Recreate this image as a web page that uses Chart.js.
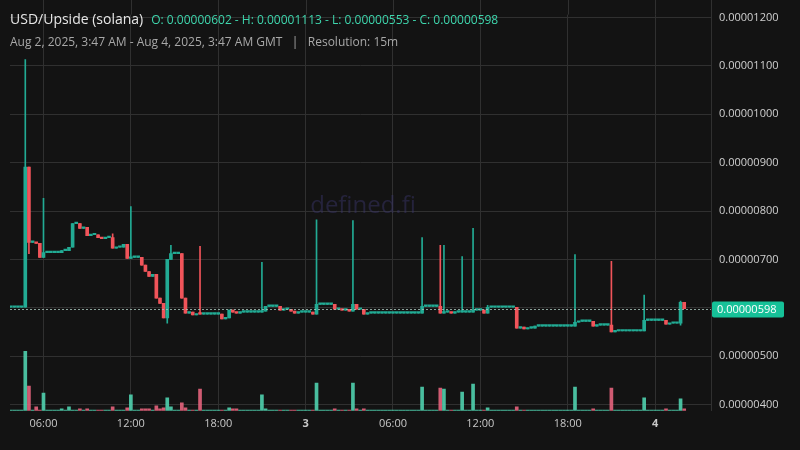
<!DOCTYPE html>
<html><head><meta charset="utf-8">
<script src="https://cdn.jsdelivr.net/npm/chart.js@4.4.0/dist/chart.umd.min.js"></script>
<style>html,body{margin:0;background:#131313;}#w{width:800px;height:450px;}</style>
</head><body><div id="w"><canvas id="c"></canvas></div>
<script>
// 15-minute candles, hours since Aug 2 00:00 GMT; prices in units of 1e-6
const startHour = 3.75, intervalHours = 0.25;
const closes = [6.01,6.01,6.01,6.01,
8.91,7.35,7.35,7.33,7.04,7.14,7.14,7.14,7.14,7.14,
7.18,7.18,7.25,7.74,7.74,7.64,7.66,7.49,7.51,7.51,7.45,7.43,7.45,7.45,7.23,7.25,7.25,7.31,7.02,7.04,7.04,7.04,
6.88,6.75,6.65,6.69,6.20,6.09,5.79,7.00,7.12,7.12,7.12,6.20,5.89,5.91,5.85,5.87,5.87,5.87,5.87,5.87,5.87,5.87,
5.77,5.79,5.95,5.91,5.89,5.91,5.91,5.91,5.91,5.91,5.91,5.93,6.03,6.03,6.03,6.03,5.95,5.97,5.97,5.93,5.89,
5.91,5.91,5.91,5.91,5.87,6.07,6.07,6.07,6.07,6.07,5.97,5.97,5.95,5.97,5.93,6.07,5.97,5.97,5.87,
5.89,5.89,5.89,5.89,5.89,5.89,5.89,5.89,5.89,5.89,5.89,5.89,5.89,5.89,5.89,
6.03,6.03,6.03,6.03,6.03,5.89,5.91,5.91,5.89,5.91,5.91,5.91,5.91,5.91,5.95,5.95,5.95,5.89,6.01,
6.01,6.01,6.01,6.01,6.01,6.01,6.01,5.58,5.60,5.56,5.58,5.58,5.62,
5.62,5.62,5.62,5.62,5.62,5.62,5.62,5.62,5.62,5.62,5.70,5.72,5.72,5.72,5.72,5.62,5.64,5.64,5.64,5.64,5.50,
5.52,5.52,5.52,5.52,5.52,5.52,5.52,5.52,5.74,5.74,5.74,5.74,5.74,5.74,5.66,5.68,5.68,5.68,6.11,5.98];
const opens = [6.01,6.01,6.01,6.01,
6.01,8.91,7.35,7.35,7.33,7.04,7.14,7.14,7.14,7.14,
7.14,7.18,7.18,7.25,7.74,7.74,7.64,7.66,7.49,7.51,7.51,7.45,7.43,7.45,7.45,7.23,7.25,7.25,7.31,7.02,7.04,7.04,
7.04,6.88,6.75,6.65,6.69,6.20,6.09,5.79,7.00,7.12,7.12,7.12,6.20,5.89,5.91,5.85,5.88,5.87,5.87,5.87,5.87,5.87,
5.87,5.77,5.79,5.95,5.91,5.89,5.91,5.91,5.91,5.91,5.91,5.91,5.93,6.03,6.03,6.03,6.03,5.95,5.97,5.97,5.93,
5.89,5.91,5.91,5.91,5.91,5.87,6.07,6.07,6.07,6.07,6.07,5.97,5.97,5.95,5.97,5.93,6.07,5.97,5.97,
5.87,5.89,5.89,5.89,5.89,5.89,5.89,5.89,5.89,5.89,5.89,5.89,5.89,5.89,5.89,
5.89,6.03,6.03,6.03,6.03,6.03,5.89,5.91,5.91,5.89,5.91,5.91,5.91,5.91,5.91,5.95,5.95,5.95,5.89,
6.01,6.01,6.01,6.01,6.01,6.01,6.01,6.01,5.58,5.60,5.56,5.58,5.58,
5.62,5.62,5.62,5.62,5.62,5.62,5.62,5.62,5.62,5.62,5.62,5.70,5.72,5.72,5.72,5.72,5.62,5.64,5.64,5.64,5.64,
5.50,5.52,5.52,5.52,5.52,5.52,5.52,5.52,5.52,5.74,5.74,5.74,5.74,5.74,5.74,5.66,5.68,5.68,5.68,6.11];
const highIdx = [4,9,28,33,44,52,69,84,94,113,118,119,124,127,131,155,165,174,184];
const highVal = [11.13,8.26,7.53,8.09,7.29,7.27,6.94,7.82,7.80,7.45,7.29,7.29,7.06,7.64,6.05,7.10,6.96,6.26,6.14];
const lowIdx = [5,43,184];
const lowVal = [7.12,5.68,5.64];
const volIdx = [4,5,7,9,14,16,19,21,28,32,33,36,37,38,40,41,42,43,44,47,48,52,60,61,62,69,70,84,89,94,95,97,113,118,119,124,127,131,139,155,160,165,174,180,184,185];
const volVal = [60,25,4,18,2,4,2,2,4,3,16,2,2,2,5,2,3,13,4,8,3,22,3,2,2,16,2,28,2,28,2,2,24,23,22,19,27,3,4,24,2,23,13,2,12,2];
const baseVolume = 0.8;
const xTickHours = [6,12,18,24,30,36,42,48];
const yTickValues = [4,5,6,7,8,9,10,11,12];
const lastPrice = 5.98;

const UP='#22ab94', DOWN='#f0545a', VUP='rgba(80,210,175,0.9)', VDOWN='rgba(230,100,125,0.9)';
const times = closes.map((_,i)=>startHour+i*intervalHours);
const highs = closes.map((c,i)=>Math.max(c,opens[i]));
const lows = closes.map((c,i)=>Math.min(c,opens[i]));
highIdx.forEach((k,j)=>highs[k]=highVal[j]);
lowIdx.forEach((k,j)=>lows[k]=lowVal[j]);
const vols = closes.map(()=>baseVolume);
volIdx.forEach((k,j)=>vols[k]=volVal[j]);
const isUp = closes.map((c,i)=>c>=opens[i]);

const bodies = times.map((t,i)=>({x:t,y:[opens[i],closes[i]]}));
const wicks = times.map((t,i)=>({x:t,y:[lows[i],highs[i]]}));
const volData = times.map((t,i)=>({x:t,y:vols[i]}));

const deco = {
  id:'deco',
  beforeDatasetsDraw(ch){
    const c=ch.ctx, a=ch.chartArea, xs=ch.scales.x;
    c.save();
    // extend vertical grid lines to the top edge
    c.strokeStyle='#303030';c.lineWidth=1;
    xTickHours.forEach(h=>{const px=Math.round(xs.getPixelForValue(h))+0.5;c.beginPath();c.moveTo(px,0);c.lineTo(px,a.top);c.stroke();});
    c.beginPath();c.moveTo(a.right+0.5,0);c.lineTo(a.right+0.5,a.top);c.stroke();
    c.fillStyle='rgba(60,55,110,0.45)';
    c.font='24px "Open Sans"';c.textAlign='center';c.textBaseline='middle';
    c.fillText('defined.fi',363,206);
    c.restore();
  },
  afterDraw(ch){
    const c=ch.ctx, a=ch.chartArea, y=ch.scales.y;
    c.save();
    const py=Math.round(y.getPixelForValue(lastPrice))+0.5;
    c.strokeStyle='rgba(170,200,190,0.8)';c.setLineDash([2,2]);c.lineWidth=1;
    c.beginPath();c.moveTo(a.left,py);c.lineTo(a.right,py);c.stroke();
    c.setLineDash([]);
    c.fillStyle='#16c198';
    c.beginPath();c.roundRect(a.right+1,py-8,72,16,2);c.fill();
    c.fillStyle='#fff';c.font='11px "Open Sans"';c.textBaseline='middle';c.textAlign='left';
    c.fillText('0.00000598',a.right+6,py+0.5);
    c.textBaseline='alphabetic';
    c.font='14px "Open Sans"';c.fillStyle='#e6e6e6';
    c.fillText('USD/Upside (solana)',10,24);
    const w=c.measureText('USD/Upside (solana)').width;
    c.font='12px "Open Sans"';c.fillStyle='#3ed6ad';
    c.fillText('O: 0.00000602 - H: 0.00001113 - L: 0.00000553 - C: 0.00000598',10+w+8,24);
    c.fillStyle='#a8a8a8';
    c.fillText('Aug 2, 2025, 3:47 AM - Aug 4, 2025, 3:47 AM GMT   |   Resolution: 15m',10,46);
    c.restore();
  }
};

new Chart(document.getElementById('c'),{
  type:'bar',
  data:{datasets:[
    {data:volData,yAxisID:'yv',barThickness:3,backgroundColor:isUp.map(u=>u?VUP:VDOWN),order:3},
    {data:wicks,yAxisID:'y',barThickness:1,backgroundColor:isUp.map(u=>u?UP:DOWN),grouped:false,order:2},
    {data:bodies,yAxisID:'y',barThickness:3,minBarLength:1.5,backgroundColor:isUp.map(u=>u?UP:DOWN),grouped:false,order:1}
  ]},
  options:{
    responsive:true,maintainAspectRatio:false,animation:false,
    layout:{padding:{left:10,top:0,right:0,bottom:14}},
    plugins:{legend:{display:false},tooltip:{enabled:false}},
    scales:{
      x:{type:'linear',min:3.70,max:51.84,offset:false,
        afterBuildTicks:s=>{s.ticks=xTickHours.map(v=>({value:v}));},
        ticks:{color:'#c8c8c8',padding:6,maxRotation:0,autoSkip:false,
          font:ctx=>({family:'"Open Sans"',size:11,weight:(ctx.tick&&ctx.tick.value%24===0)?'bold':'normal'}),
          callback:v=>v%24===0?String(2+v/24):String(v%24).padStart(2,'0')+':00'},
        grid:{color:'#303030',drawTicks:false,offset:false},border:{display:false}},
      y:{position:'right',min:3.87,max:12.06,
        afterBuildTicks:s=>{s.ticks=yTickValues.map(v=>({value:v}));},
        afterFit:s=>{s.width=89;},
        ticks:{color:'#d0d0d0',padding:8,font:{family:'"Open Sans"',size:11},callback:v=>(v/1e6).toFixed(8)},
        grid:{color:'#303030',drawTicks:false},border:{display:true,color:'#303030'}},
      yv:{display:false,min:0,max:400}
    }
  },
  plugins:[deco]
});
</script></body></html>
